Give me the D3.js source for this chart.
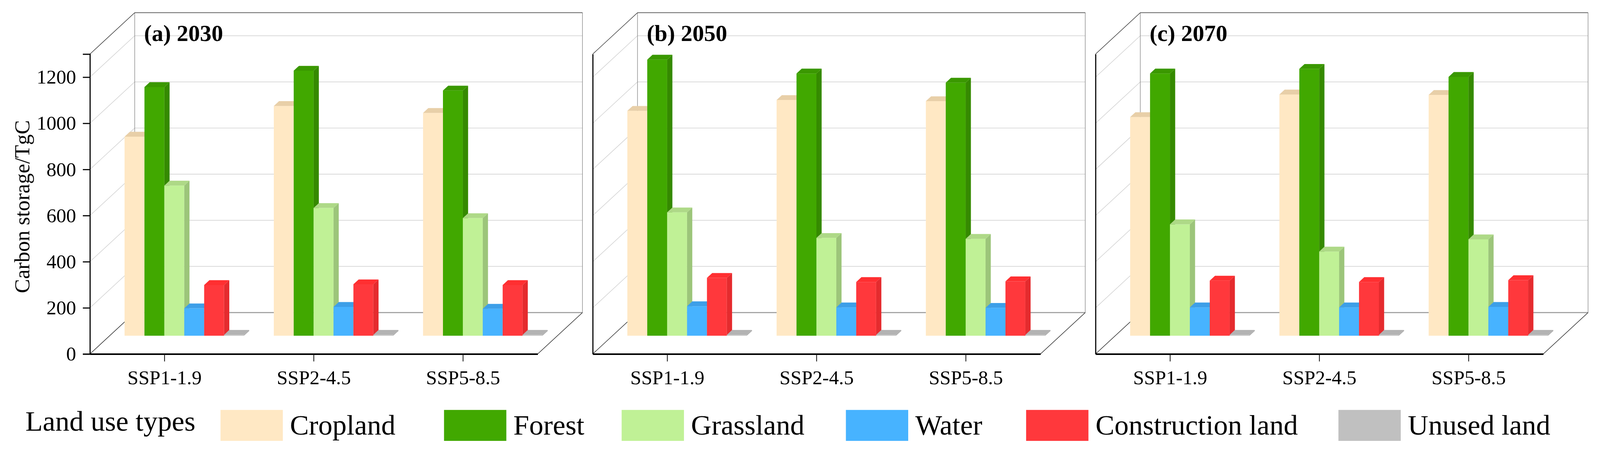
<!DOCTYPE html>
<meta charset="utf-8">
<script src="https://d3js.org/d3.v7.min.js"></script>
<style>
  html, body { margin: 0; padding: 0; background: #fff; overflow: hidden; }
  svg { display: block; }
  text { font-family: "Liberation Serif", "Times New Roman", serif; fill: #000; }
</style>
<div id="chart"></div>
<script>

    // ---- data (carbon storage, TgC) ----
    const panels = ["(a) 2030", "(b) 2050", "(c) 2070"];
    const scenarios = ["SSP1-1.9", "SSP2-4.5", "SSP5-8.5"];
    const landTypes = ["Cropland", "Forest", "Grassland", "Water", "Construction land", "Unused land"];
    const yTicks = [0, 200, 400, 600, 800, 1000, 1200];

    // one row per panel (2030, 2050, 2070), one value per scenario
    const cropland     = [[863, 996, 966],   [975, 1022, 1017], [948, 1046, 1044]];
    const forest       = [[1078, 1149, 1063], [1197, 1137, 1097], [1137, 1157, 1122]];
    const grassland    = [[651, 554, 510],   [535, 424, 420],   [483, 365, 418]];
    const water        = [[119, 125, 117],   [128, 123, 121],   [123, 123, 125]];
    const construction = [[220, 223, 220],   [251, 233, 236],   [239, 233, 241]];
    const unused       = [[4, 4, 4],         [4, 4, 4],         [4, 4, 4]];
    const series = [cropland, forest, grassland, water, construction, unused];

    // front / side / top face colours for each land type
    const frontColor = ["#ffe8c4", "#41a800", "#c0f196", "#47b3ff", "#ff383c", "#c0c0c0"];
    const sideColor  = ["#e9d1aa", "#358a00", "#9cc57a", "#3a98d9", "#e52b2e", "#a6a6a6"];
    const topColor   = ["#e8cfa8", "#3a9800", "#aed987", "#3d9fe8", "#ff2f31", "#b3b3b3"];

    // ---- layout ----
    const W = 4288, H = 1219;
    const plotLeft = 241, panelStep = 1347.5, plotW = 1200;
    const depth = {x: 120, y: -111};      // offset of the back wall
    const barZ = [0.44, 0.557];           // bar front / back depth fraction
    const legendX = [591, 1190, 1666, 2267, 2750, 3587];   // swatch left edges
    const serif = '"Liberation Serif", "Times New Roman", serif';

    // viewBox so the whole figure fits the window, pinned to the top-left
    const svg = d3.select("#chart")
        .append("svg")
        .attr("viewBox", `0 0 ${W} ${H}`)
        .attr("preserveAspectRatio", "xMinYMin meet")
        .style("width", "100vw")
        .style("height", "100vh")
        .style("background", "#fff");

    const y = d3.scaleLinear().domain([0, 1300]).range([949, 145]);
    const x0 = d3.scaleBand().domain(scenarios).range([0, plotW]);
    const groupW = x0.bandwidth() * 6 / 7.5;   // gap width 150%
    const x1 = d3.scaleBand().domain(landTypes).range([0, groupW]);
    const groupPad = (x0.bandwidth() - groupW) / 2;

    // oblique projection: x along category axis, v value, z depth fraction
    const P = (x, v, z) => [x + z * depth.x, y(v) + z * depth.y];
    const poly = pts => "M" + pts.map(p => p.join(",")).join("L") + "Z";
    const seg = (a, b) => "M" + a.join(",") + "L" + b.join(",");

    panels.forEach((title, p) => {
        const g = svg.append("g")
            .attr("transform", `translate(${plotLeft + p * panelStep},0)`);

        // floor
        g.append("path")
            .attr("d", poly([P(0, 0, 0), P(plotW, 0, 0), P(plotW, 0, 1), P(0, 0, 1)]))
            .attr("fill", "#fff");

        // back wall gridlines
        g.selectAll(".gridBack")
            .data(yTicks.filter(v => v > 0))
            .join("path")
            .attr("d", v => seg(P(0, v, 1), P(plotW, v, 1)))
            .attr("stroke", "#d9d9d9")
            .attr("stroke-width", 2);

        // side wall gridlines
        g.selectAll(".gridSide")
            .data(yTicks.filter(v => v > 0))
            .join("path")
            .attr("d", v => seg(P(0, v, 0), P(0, v, 1)))
            .attr("stroke", "#d0d0d0")
            .attr("stroke-width", 1.5);

        // wall edges
        const edges = [
            {a: P(0, 0, 1), b: P(plotW, 0, 1), c: "#a6a6a6", w: 3},
            {a: P(0, 0, 1), b: P(0, 1300, 1), c: "#8c8c8c", w: 1.5},
            {a: P(plotW, 0, 1), b: P(plotW, 1300, 1), c: "#8c8c8c", w: 1.5},
            {a: P(0, 1300, 1), b: P(plotW, 1300, 1), c: "#333", w: 1.5},
            {a: P(0, 1300, 0), b: P(0, 1300, 1), c: "#333", w: 1.5},
            {a: P(0, 0, 0), b: P(0, 0, 1), c: "#222", w: 1.5},
            {a: P(plotW, 0, 0), b: P(plotW, 0, 1), c: "#222", w: 1.5}
        ];
        g.selectAll(".edge")
            .data(edges)
            .join("path")
            .attr("d", d => seg(d.a, d.b))
            .attr("stroke", d => d.c)
            .attr("stroke-width", d => d.w)
            .attr("fill", "none");

        // bars, left to right so later fronts hide earlier sides
        const bars = [];
        scenarios.forEach((s, j) => {
            landTypes.forEach((t, k) => {
                const xl = x0(s) + groupPad + x1(t);
                bars.push({k, xl, xr: xl + x1.bandwidth(), v: series[k][p][j]});
            });
        });
        const [z0, z1] = barZ;
        const bar = g.selectAll(".bar")
            .data(bars)
            .join("g")
            .attr("class", "bar");
        bar.append("path")
            .attr("d", d => poly([P(d.xl, 0, z0), P(d.xr, 0, z0), P(d.xr, d.v, z0), P(d.xl, d.v, z0)]))
            .attr("fill", d => frontColor[d.k]);
        bar.append("path")
            .attr("d", d => poly([P(d.xr, 0, z0), P(d.xr, 0, z1), P(d.xr, d.v, z1), P(d.xr, d.v, z0)]))
            .attr("fill", d => sideColor[d.k]);
        bar.append("path")
            .attr("d", d => poly([P(d.xl, d.v, z0), P(d.xr, d.v, z0), P(d.xr, d.v, z1), P(d.xl, d.v, z1)]))
            .attr("fill", d => topColor[d.k]);

        // Y axis (labels only on the first panel)
        const yAxis = d3.axisLeft(y).tickSizeOuter(0).tickFormat(d3.format("d"));
        if (p === 0) yAxis.tickValues(yTicks).tickSize(19).tickPadding(18);
        else yAxis.tickValues([]);
        const ya = g.append("g").call(yAxis);
        ya.select(".domain").attr("stroke", "#000").attr("stroke-width", 3);
        ya.selectAll(".tick line").attr("stroke", "#000").attr("stroke-width", 3);
        ya.selectAll(".tick text")
            .attr("font-size", 53)
            .style("font-family", serif);

        // X axis
        const xa = g.append("g")
            .attr("transform", `translate(0,${y(0)})`)
            .call(d3.axisBottom(x0).tickSize(20).tickSizeOuter(0).tickPadding(23));
        xa.select(".domain").attr("stroke", "#000").attr("stroke-width", 4);
        xa.selectAll(".tick line").attr("stroke", "#000").attr("stroke-width", 2);
        xa.selectAll(".tick text")
            .attr("font-size", 53)
            .style("font-family", serif);

        // panel title
        g.append("text")
            .attr("x", 145)
            .attr("y", 110)
            .attr("font-size", 62)
            .attr("font-weight", "bold")
            .text(title);
    });

    // Y axis title
    svg.append("text")
        .attr("transform", "rotate(-90)")
        .attr("x", -554)
        .attr("y", 78)
        .attr("text-anchor", "middle")
        .attr("font-size", 57)
        .text("Carbon storage/TgC");

    // legend
    const legend = svg.append("g");
    legend.append("text")
        .attr("x", 68)
        .attr("y", 1155)
        .attr("font-size", 76)
        .text("Land use types");

    const item = legend.selectAll(".item")
        .data(landTypes)
        .join("g")
        .attr("class", "item")
        .attr("transform", (d, k) => `translate(${legendX[k]},0)`);
    item.append("rect")
        .attr("x", 0).attr("y", 1099)
        .attr("width", 167).attr("height", 83)
        .attr("fill", (d, k) => frontColor[k]);
    item.append("text")
        .attr("x", 186)
        .attr("y", 1165)
        .attr("font-size", 76)
        .text(d => d);

</script>
